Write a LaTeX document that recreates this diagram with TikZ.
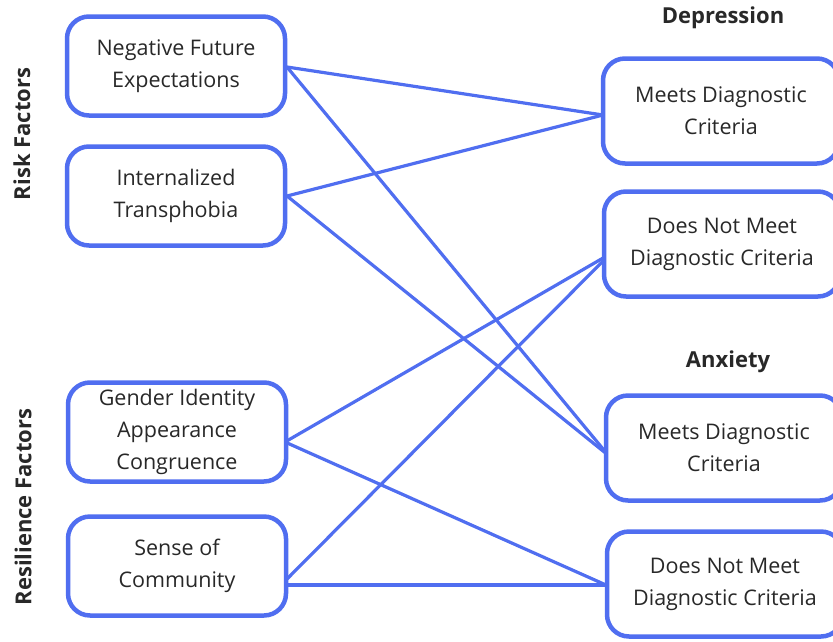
\documentclass[tikz,border=0pt]{standalone}
\usepackage{fontspec}
\setmainfont{Open Sans}
\definecolor{boxblue}{RGB}{80,110,240}
\definecolor{txtgray}{RGB}{40,40,40}
\tikzset{
  factor/.style={draw=boxblue, line width=4.5pt, rounded corners=22pt, fill=white,
    minimum width=218pt, minimum height=99pt, align=center, text=txtgray,
    font=\fontsize{21.5}{32}\selectfont},
  outcome/.style={factor, minimum width=236pt, minimum height=105pt},
  link/.style={draw=boxblue, line width=3.2pt},
  heading/.style={text=txtgray, font=\fontsize{22}{26}\selectfont\bfseries}
}
\begin{document}
\begin{tikzpicture}[x=1pt, y=-1pt]
				\useasboundingbox (0,0) rectangle (833,641);
				% side labels
				\node[heading, rotate=90] (risk) at(22, 134){Risk Factors};
				\node[heading, rotate=90] (resil) at(23, 507){Resilience Factors};
				% outcome headings
				\node[heading] (dep) at(723, 18){Depression};
				\node[heading] (anx) at(728, 362){Anxiety};
				% connectors first, boxes on top
				\coordinate (nfeout) at(287, 67);
				\coordinate (itout) at(287, 196);
				\coordinate (giacout) at(285, 442);
				\coordinate (socup) at(287, 579);
				\coordinate (socout) at(287, 585);
				\coordinate (dmeetin) at(603, 115);
				\coordinate (dnotin) at(610, 254);
				\coordinate (ameetin) at(608, 455);
				\coordinate (anotin) at(606, 585);
				\draw[link] (nfeout) -- (dmeetin);
				\draw[link] (nfeout) -- (ameetin);
				\draw[link] (itout) -- (dmeetin);
				\draw[link] (itout) -- (ameetin);
				\draw[link] (giacout) -- (dnotin);
				\draw[link] (giacout) -- (anotin);
				\draw[link] (socup) -- (dnotin);
				\draw[link] (socout) -- (anotin);
				% risk and resilience factors
				\node[factor] (nfe) at(176, 66){Negative Future\\Expectations};
				\node[factor] (it) at(176, 196){Internalized\\Transphobia};
				\node[factor] (giac) at(177, 432){Gender Identity\\Appearance\\Congruence};
				\node[factor] (soc) at(177, 566){Sense of\\Community};
				% outcomes
				\node[outcome] (dmeet) at(721, 111){Meets Diagnostic\\Criteria};
				\node[outcome] (dnot) at(722, 244){Does Not Meet\\Diagnostic Criteria};
				\node[outcome] (ameet) at(724, 448){Meets Diagnostic\\Criteria};
				\node[outcome] (anot) at(725, 584){Does Not Meet\\Diagnostic Criteria};
			\end{tikzpicture}
\end{document}
